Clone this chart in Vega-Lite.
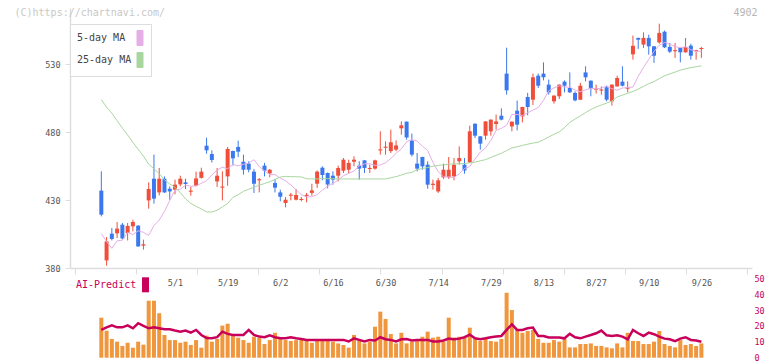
{
  "$schema": "https://vega.github.io/schema/vega-lite/v6.json",
  "width": 682,
  "height": 350,
  "autosize": {"type": "none"},
  "padding": {"left": 70, "top": 8, "right": 20, "bottom": 3},
  "background": "white",
  "config": {"view": {"stroke": null}, "font": "DejaVu Sans Mono"},
  "data": {"values": [
    {"i":0,"d":"2025-04-10","o":437,"h":451.2,"l":418,"c":419.3,"ma5":405.3,"ma25":504,"v":25.2,"ai":17.5},
    {"i":1,"d":"2025-04-11","o":385.6,"h":402.8,"l":381.7,"c":399.6,"ma5":399.5,"ma25":498.5,"v":17.0,"ai":19.1},
    {"i":2,"d":"2025-04-14","o":405.3,"h":409.5,"l":400.3,"c":401.4,"ma5":394.5,"ma25":494,"v":11.8,"ai":20.4},
    {"i":3,"d":"2025-04-15","o":405.5,"h":413.9,"l":402.1,"c":409,"ma5":400,"ma25":488.5,"v":10.1,"ai":19.1},
    {"i":4,"d":"2025-04-16","o":411.9,"h":413.2,"l":400.9,"c":401.8,"ma5":400.5,"ma25":483,"v":7.4,"ai":19.1},
    {"i":5,"d":"2025-04-17","o":405.8,"h":413.2,"l":400.3,"c":411,"ma5":406.2,"ma25":478,"v":9.4,"ai":20.4},
    {"i":6,"d":"2025-04-18","o":410.7,"h":415.6,"l":407,"c":413.9,"ma5":404.6,"ma25":472.5,"v":6.3,"ai":18.5},
    {"i":7,"d":"2025-04-21","o":411.2,"h":411.6,"l":395.6,"c":395.9,"ma5":407.4,"ma25":467.5,"v":10.1,"ai":21.7},
    {"i":8,"d":"2025-04-22","o":396.5,"h":400.9,"l":393.5,"c":397.5,"ma5":406.3,"ma25":462.5,"v":8.2,"ai":20.0},
    {"i":9,"d":"2025-04-23","o":429.8,"h":443.1,"l":423.7,"c":438.2,"ma5":404.0,"ma25":456.5,"v":35.9,"ai":18.5},
    {"i":10,"d":"2025-04-24","o":445.8,"h":463.5,"l":427.4,"c":431.1,"ma5":411.3,"ma25":453,"v":35.9,"ai":19.1},
    {"i":11,"d":"2025-04-25","o":435.7,"h":453.7,"l":433.5,"c":445.8,"ma5":415.3,"ma25":449.5,"v":28.0,"ai":18.5},
    {"i":12,"d":"2025-04-28","o":445.8,"h":447.5,"l":435.3,"c":435.7,"ma5":421.7,"ma25":445,"v":14.3,"ai":17.9},
    {"i":13,"d":"2025-04-30","o":438.4,"h":440.1,"l":430.3,"c":436.4,"ma5":429.7,"ma25":442,"v":11.1,"ai":17.9},
    {"i":14,"d":"2025-05-01","o":437.7,"h":445.1,"l":434.3,"c":441.4,"ma5":437.4,"ma25":439.5,"v":11.1,"ai":17.1},
    {"i":15,"d":"2025-05-02","o":441.6,"h":448,"l":440.1,"c":445.8,"ma5":438.1,"ma25":435.5,"v":9.4,"ai":16.4},
    {"i":16,"d":"2025-05-07","o":443.1,"h":445.8,"l":438.2,"c":441.9,"ma5":441.0,"ma25":431,"v":10.1,"ai":17.1},
    {"i":17,"d":"2025-05-08","o":436.2,"h":439.7,"l":433.3,"c":437,"ma5":440.2,"ma25":427.5,"v":8.0,"ai":15.8},
    {"i":18,"d":"2025-05-09","o":440.6,"h":451,"l":440.1,"c":446,"ma5":440.5,"ma25":425.5,"v":11.1,"ai":17.5},
    {"i":19,"d":"2025-05-12","o":446.4,"h":453.9,"l":445.9,"c":451,"ma5":442.4,"ma25":423.5,"v":6.3,"ai":14.3},
    {"i":20,"d":"2025-05-13","o":470.1,"h":476,"l":464.2,"c":466.7,"ma5":444.3,"ma25":421.3,"v":13.9,"ai":12.4},
    {"i":21,"d":"2025-05-14","o":464,"h":466.7,"l":457.7,"c":459.6,"ma5":448.5,"ma25":421.3,"v":10.1,"ai":12.2},
    {"i":22,"d":"2025-05-15","o":443.8,"h":453.7,"l":439.7,"c":448,"ma5":452.1,"ma25":422.5,"v":11.8,"ai":12.9},
    {"i":23,"d":"2025-05-16","o":439.2,"h":451.2,"l":429.8,"c":440,"ma5":454.3,"ma25":425,"v":20.2,"ai":16.4},
    {"i":24,"d":"2025-05-19","o":447.5,"h":469.2,"l":440.6,"c":467.7,"ma5":453.1,"ma25":427.5,"v":21.4,"ai":15.0},
    {"i":25,"d":"2025-05-20","o":466.2,"h":466.5,"l":455.4,"c":460.8,"ma5":456.4,"ma25":432,"v":14.9,"ai":14.3},
    {"i":26,"d":"2025-05-21","o":469.2,"h":473.8,"l":461.8,"c":465.7,"ma5":455.2,"ma25":434,"v":12.6,"ai":14.3},
    {"i":27,"d":"2025-05-22","o":458.3,"h":463.5,"l":448.8,"c":452.4,"ma5":456.4,"ma25":436.5,"v":11.1,"ai":14.3},
    {"i":28,"d":"2025-05-23","o":456.9,"h":458.6,"l":450.5,"c":452.4,"ma5":457.3,"ma25":438,"v":9.4,"ai":17.5},
    {"i":29,"d":"2025-05-26","o":451,"h":453,"l":435.3,"c":442.1,"ma5":459.8,"ma25":439.5,"v":13.2,"ai":14.3},
    {"i":30,"d":"2025-05-27","o":444.6,"h":446.3,"l":435.7,"c":445.4,"ma5":454.7,"ma25":441,"v":12.6,"ai":13.3},
    {"i":31,"d":"2025-05-28","o":455.4,"h":457.4,"l":447.5,"c":451.7,"ma5":451.6,"ma25":442.2,"v":8.6,"ai":12.9},
    {"i":32,"d":"2025-05-29","o":449.7,"h":453,"l":446.8,"c":452.4,"ma5":448.8,"ma25":443.5,"v":11.1,"ai":14.1},
    {"i":33,"d":"2025-05-30","o":442.6,"h":445.6,"l":435.7,"c":439.2,"ma5":448.8,"ma25":445.3,"v":15.7,"ai":12.9},
    {"i":34,"d":"2025-06-02","o":435.7,"h":437.7,"l":429.1,"c":432.5,"ma5":446.2,"ma25":447,"v":11.8,"ai":12.2},
    {"i":35,"d":"2025-06-03","o":427.9,"h":432.3,"l":424.7,"c":430.3,"ma5":444.2,"ma25":447.5,"v":11.1,"ai":12.2},
    {"i":36,"d":"2025-06-04","o":433.2,"h":435.3,"l":429.8,"c":434,"ma5":441.2,"ma25":447.3,"v":10.5,"ai":12.9},
    {"i":37,"d":"2025-06-05","o":430.3,"h":438.2,"l":429.8,"c":433.8,"ma5":437.7,"ma25":447.2,"v":11.1,"ai":12.2},
    {"i":38,"d":"2025-06-06","o":430.1,"h":432.3,"l":429.1,"c":430.9,"ma5":434.0,"ma25":447.1,"v":11.8,"ai":11.8},
    {"i":39,"d":"2025-06-09","o":433.1,"h":435.3,"l":428.4,"c":433.9,"ma5":432.3,"ma25":445.8,"v":10.5,"ai":11.2},
    {"i":40,"d":"2025-06-10","o":435.3,"h":442.1,"l":433.3,"c":437.2,"ma5":432.6,"ma25":445.6,"v":9.4,"ai":11.2},
    {"i":41,"d":"2025-06-11","o":442.1,"h":451.9,"l":439,"c":451,"ma5":434.0,"ma25":445.6,"v":11.1,"ai":11.2},
    {"i":42,"d":"2025-06-12","o":453.9,"h":454.9,"l":444.6,"c":448.5,"ma5":437.4,"ma25":445.8,"v":11.1,"ai":11.2},
    {"i":43,"d":"2025-06-13","o":450,"h":450.4,"l":438.7,"c":441.6,"ma5":440.3,"ma25":445.8,"v":10.5,"ai":11.2},
    {"i":44,"d":"2025-06-16","o":448,"h":451.2,"l":441.4,"c":445.1,"ma5":442.4,"ma25":445.8,"v":10.1,"ai":11.2},
    {"i":45,"d":"2025-06-17","o":448,"h":455.4,"l":443.8,"c":453.7,"ma5":444.7,"ma25":445.6,"v":9.0,"ai":11.2},
    {"i":46,"d":"2025-06-18","o":451.7,"h":461,"l":450,"c":459.8,"ma5":448.0,"ma25":445.6,"v":8.0,"ai":11.2},
    {"i":47,"d":"2025-06-19","o":452.4,"h":459.8,"l":450,"c":457.4,"ma5":449.7,"ma25":445.6,"v":6.3,"ai":10.2},
    {"i":48,"d":"2025-06-20","o":458.3,"h":462.3,"l":454.9,"c":459.8,"ma5":451.5,"ma25":445.6,"v":14.3,"ai":12.2},
    {"i":49,"d":"2025-06-23","o":455.4,"h":458.6,"l":445.1,"c":453.2,"ma5":455.2,"ma25":445.6,"v":11.1,"ai":11.2},
    {"i":50,"d":"2025-06-24","o":459.3,"h":459.5,"l":450,"c":453.7,"ma5":456.8,"ma25":445.6,"v":9.0,"ai":10.2},
    {"i":51,"d":"2025-06-25","o":452.9,"h":456.1,"l":450,"c":453.7,"ma5":456.8,"ma25":445.6,"v":10.1,"ai":11.2},
    {"i":52,"d":"2025-06-26","o":453.2,"h":459.8,"l":452.4,"c":459.3,"ma5":455.6,"ma25":445.6,"v":19.5,"ai":10.8},
    {"i":53,"d":"2025-06-27","o":466.6,"h":480.7,"l":463.5,"c":467.4,"ma5":455.9,"ma25":445.6,"v":29.0,"ai":12.9},
    {"i":54,"d":"2025-06-30","o":468.6,"h":473.3,"l":463.5,"c":469.4,"ma5":457.5,"ma25":445.6,"v":24.4,"ai":11.6},
    {"i":55,"d":"2025-07-01","o":466.1,"h":481.9,"l":464.7,"c":472.6,"ma5":460.7,"ma25":446.5,"v":14.9,"ai":11.2},
    {"i":56,"d":"2025-07-02","o":467.2,"h":474,"l":466,"c":470.3,"ma5":464.5,"ma25":447.3,"v":9.0,"ai":10.2},
    {"i":57,"d":"2025-07-03","o":482.9,"h":488,"l":478.2,"c":485.1,"ma5":467.8,"ma25":448.5,"v":15.7,"ai":11.6},
    {"i":58,"d":"2025-07-04","o":487.8,"h":488,"l":474.5,"c":476.2,"ma5":473.0,"ma25":449.8,"v":9.0,"ai":11.8},
    {"i":59,"d":"2025-07-07","o":473.8,"h":479,"l":462.2,"c":463.5,"ma5":474.7,"ma25":450.5,"v":10.1,"ai":10.8},
    {"i":60,"d":"2025-07-08","o":456.9,"h":464.7,"l":451.2,"c":453.2,"ma5":473.5,"ma25":452.4,"v":10.5,"ai":11.2},
    {"i":61,"d":"2025-07-09","o":461.8,"h":462,"l":452.4,"c":454.9,"ma5":469.7,"ma25":453.3,"v":13.2,"ai":11.2},
    {"i":62,"d":"2025-07-10","o":456.1,"h":458.6,"l":438.4,"c":441.4,"ma5":466.6,"ma25":454,"v":16.4,"ai":11.2},
    {"i":63,"d":"2025-07-11","o":441.2,"h":445.1,"l":437.7,"c":442.1,"ma5":457.8,"ma25":455,"v":12.6,"ai":10.2},
    {"i":64,"d":"2025-07-14","o":436.4,"h":446.3,"l":435.3,"c":444.6,"ma5":451.0,"ma25":455.6,"v":13.2,"ai":10.2},
    {"i":65,"d":"2025-07-15","o":446.8,"h":456.9,"l":445.6,"c":452.4,"ma5":447.2,"ma25":456,"v":10.1,"ai":10.8},
    {"i":66,"d":"2025-07-16","o":446.8,"h":461.8,"l":445.6,"c":452.4,"ma5":447.1,"ma25":456.5,"v":25.2,"ai":12.0},
    {"i":67,"d":"2025-07-17","o":447.5,"h":461,"l":444.6,"c":456.1,"ma5":446.6,"ma25":456.7,"v":12.6,"ai":11.6},
    {"i":68,"d":"2025-07-18","o":458.6,"h":469.6,"l":456.1,"c":461,"ma5":449.5,"ma25":456.8,"v":13.2,"ai":12.0},
    {"i":69,"d":"2025-07-22","o":456.1,"h":461,"l":449.5,"c":451.9,"ma5":453.3,"ma25":457,"v":12.6,"ai":12.9},
    {"i":70,"d":"2025-07-23","o":457.8,"h":484.9,"l":457.4,"c":480.7,"ma5":454.8,"ma25":457.5,"v":18.9,"ai":14.5},
    {"i":71,"d":"2025-07-24","o":486.3,"h":486.5,"l":475.8,"c":477.5,"ma5":460.4,"ma25":458,"v":11.8,"ai":12.2},
    {"i":72,"d":"2025-07-25","o":477,"h":477.2,"l":467.2,"c":471.6,"ma5":465.4,"ma25":459,"v":10.5,"ai":11.6},
    {"i":73,"d":"2025-07-28","o":477.5,"h":488.2,"l":474.5,"c":488,"ma5":468.5,"ma25":459.8,"v":11.8,"ai":12.2},
    {"i":74,"d":"2025-07-29","o":480.7,"h":489.5,"l":477.5,"c":489.3,"ma5":473.9,"ma25":461.5,"v":10.5,"ai":12.9},
    {"i":75,"d":"2025-07-30","o":486.1,"h":493,"l":481.9,"c":488,"ma5":481.4,"ma25":463,"v":10.1,"ai":13.3},
    {"i":76,"d":"2025-07-31","o":492.2,"h":497.6,"l":488.8,"c":489.3,"ma5":482.9,"ma25":464.5,"v":11.8,"ai":13.7},
    {"i":77,"d":"2025-08-01","o":523.2,"h":542.3,"l":507.7,"c":510.9,"ma5":485.2,"ma25":466.5,"v":40.9,"ai":17.5},
    {"i":78,"d":"2025-08-04","o":484.3,"h":488,"l":480.7,"c":487.8,"ma5":493.1,"ma25":468.5,"v":30.0,"ai":21.0},
    {"i":79,"d":"2025-08-05","o":495.9,"h":503.3,"l":481.4,"c":485.6,"ma5":493.1,"ma25":469.3,"v":17.4,"ai":17.5},
    {"i":80,"d":"2025-08-06","o":491.7,"h":498.8,"l":487.3,"c":498.6,"ma5":492.3,"ma25":470.3,"v":15.7,"ai":17.5},
    {"i":81,"d":"2025-08-07","o":506,"h":509,"l":492.5,"c":498.6,"ma5":494.4,"ma25":471.2,"v":16.8,"ai":18.5},
    {"i":82,"d":"2025-08-08","o":504,"h":523.2,"l":500.1,"c":520.5,"ma5":496.3,"ma25":472,"v":17.4,"ai":19.0},
    {"i":83,"d":"2025-08-12","o":521.7,"h":523.2,"l":512.6,"c":514.3,"ma5":498.2,"ma25":472.7,"v":11.8,"ai":13.7},
    {"i":84,"d":"2025-08-13","o":523.2,"h":531.5,"l":518.2,"c":520.5,"ma5":503.5,"ma25":474.5,"v":9.4,"ai":13.7},
    {"i":85,"d":"2025-08-14","o":515.1,"h":518.8,"l":507.7,"c":509.4,"ma5":510.5,"ma25":476.5,"v":9.4,"ai":12.7},
    {"i":86,"d":"2025-08-15","o":502.8,"h":507.2,"l":501.1,"c":507,"ma5":512.7,"ma25":478.5,"v":11.1,"ai":12.7},
    {"i":87,"d":"2025-08-18","o":506.5,"h":515.3,"l":504.5,"c":515.1,"ma5":514.3,"ma25":480.2,"v":10.1,"ai":12.7},
    {"i":88,"d":"2025-08-19","o":517.3,"h":518.2,"l":509.4,"c":514.3,"ma5":513.3,"ma25":483.5,"v":11.8,"ai":12.2},
    {"i":89,"d":"2025-08-20","o":512.6,"h":524.1,"l":509,"c":509.4,"ma5":513.3,"ma25":487.2,"v":6.5,"ai":15.0},
    {"i":90,"d":"2025-08-21","o":509,"h":510.1,"l":502.8,"c":503.5,"ma5":511.0,"ma25":489.8,"v":6.5,"ai":12.9},
    {"i":91,"d":"2025-08-22","o":504,"h":516.4,"l":503.8,"c":514.3,"ma5":509.9,"ma25":492,"v":8.6,"ai":12.2},
    {"i":92,"d":"2025-08-25","o":524.1,"h":528.6,"l":517.5,"c":520.5,"ma5":511.3,"ma25":494.5,"v":8.6,"ai":13.3},
    {"i":93,"d":"2025-08-26","o":518,"h":518.2,"l":506.5,"c":512.1,"ma5":512.4,"ma25":496.8,"v":9.0,"ai":14.3},
    {"i":94,"d":"2025-08-27","o":511.4,"h":515.1,"l":508.5,"c":512.2,"ma5":512.0,"ma25":498.6,"v":7.4,"ai":15.4},
    {"i":95,"d":"2025-08-28","o":510.7,"h":513.8,"l":507.7,"c":511.5,"ma5":512.5,"ma25":500.1,"v":7.4,"ai":17.1},
    {"i":96,"d":"2025-08-29","o":513.1,"h":514.3,"l":502.8,"c":504,"ma5":514.1,"ma25":501.5,"v":6.5,"ai":14.1},
    {"i":97,"d":"2025-09-01","o":502.8,"h":515.3,"l":499.6,"c":515.1,"ma5":512.1,"ma25":503,"v":5.9,"ai":13.7},
    {"i":98,"d":"2025-09-02","o":513.8,"h":521.7,"l":513.6,"c":520,"ma5":511.0,"ma25":506,"v":9.0,"ai":14.1},
    {"i":99,"d":"2025-09-03","o":517.3,"h":528.6,"l":513.8,"c":514.3,"ma5":512.6,"ma25":507.4,"v":6.5,"ai":13.3},
    {"i":100,"d":"2025-09-04","o":512.1,"h":517.5,"l":509.4,"c":512.9,"ma5":513.0,"ma25":508.7,"v":15.7,"ai":11.6},
    {"i":101,"d":"2025-09-05","o":537.4,"h":551.2,"l":533.5,"c":543.7,"ma5":513.3,"ma25":510,"v":10.5,"ai":17.5},
    {"i":102,"d":"2025-09-08","o":549.5,"h":549.7,"l":541.4,"c":548.2,"ma5":521.2,"ma25":511.8,"v":10.5,"ai":15.4},
    {"i":103,"d":"2025-09-09","o":544.6,"h":553.6,"l":542.1,"c":549.5,"ma5":527.8,"ma25":513.8,"v":8.6,"ai":13.7},
    {"i":104,"d":"2025-09-10","o":549.5,"h":551.9,"l":537.2,"c":543.3,"ma5":533.7,"ma25":515.8,"v":8.6,"ai":15.8},
    {"i":105,"d":"2025-09-11","o":543.3,"h":543.5,"l":531.1,"c":536.4,"ma5":539.5,"ma25":517.3,"v":10.1,"ai":14.8},
    {"i":106,"d":"2025-09-12","o":546.2,"h":560,"l":545.3,"c":553.2,"ma5":544.2,"ma25":519.5,"v":16.8,"ai":13.3},
    {"i":107,"d":"2025-09-16","o":554.1,"h":554.9,"l":542.1,"c":542.6,"ma5":546.1,"ma25":521.6,"v":8.6,"ai":12.0},
    {"i":108,"d":"2025-09-17","o":542.9,"h":545.8,"l":538.4,"c":539.4,"ma5":545.0,"ma25":523,"v":7.4,"ai":11.6},
    {"i":109,"d":"2025-09-18","o":539.7,"h":545.8,"l":534.8,"c":540.5,"ma5":543.0,"ma25":524.3,"v":6.5,"ai":10.4},
    {"i":110,"d":"2025-09-19","o":542.1,"h":542.3,"l":531.5,"c":538.9,"ma5":542.4,"ma25":525.8,"v":11.1,"ai":12.0},
    {"i":111,"d":"2025-09-22","o":538.9,"h":549.5,"l":538.7,"c":542.9,"ma5":542.9,"ma25":526.8,"v":8.0,"ai":12.9},
    {"i":112,"d":"2025-09-24","o":543.8,"h":545.3,"l":533.5,"c":536.4,"ma5":540.9,"ma25":527.6,"v":8.6,"ai":11.2},
    {"i":113,"d":"2025-09-25","o":539.7,"h":540.7,"l":533.5,"c":540.5,"ma5":539.6,"ma25":528.3,"v":7.4,"ai":10.8},
    {"i":114,"d":"2025-09-26","o":541.3,"h":542.9,"l":534.8,"c":542.1,"ma5":539.8,"ma25":529,"v":9.0,"ai":10.0}
  ]},
  "encoding": {
    "x": {
      "field": "i", "type": "quantitative",
      "scale": {"domain": [-5, 122.667], "nice": false, "zero": false},
      "axis": {
        "orient": "bottom", "offset": -90, "title": null, "grid": false,
        "values": [-5, 6.606, 14, 18.212, 24, 29.818, 34, 41.424, 44, 53.03, 54, 64, 64.636, 74, 76.242, 84, 87.848, 94, 99.455, 104, 111.061, 114, 122.667],
        "labelExpr": "datum.value % 10 === 4 ? ['5/1','5/19','6/2','6/16','6/30','7/14','7/29','8/13','8/27','9/10','9/26'][(datum.value - 14) / 10] : ''",
        "tickOpacity": {"condition": {"test": "datum.value % 10 === 4", "value": 0}, "value": 1},
        "tickColor": "#dddddd", "tickSize": 6, "tickWidth": 1,
        "domainColor": "#dddddd", "domainWidth": 1.5,
        "labelColor": "#555555", "labelFont": "DejaVu Sans Mono", "labelFontSize": 8.5,
        "labelPadding": 4, "labelOverlap": false, "labelFlush": false, "labelBound": false
      }
    }
  },
  "layer": [
    {
      "layer": [
        {
          "mark": {"type": "rule", "strokeWidth": 1},
          "encoding": {
            "y": {
              "field": "l", "type": "quantitative",
              "scale": {"domain": [380, 571.55], "range": [260, 0], "nice": false, "zero": false},
              "axis": {
                "orient": "left", "values": [380, 430, 480, 530], "grid": false,
                "tickColor": "#dddddd", "tickSize": 5, "domainColor": "#dddddd", "domainWidth": 1.5,
                "labelColor": "#555555", "labelFont": "DejaVu Sans Mono", "labelFontSize": 8.5, "labelPadding": 5,
                "title": "(C)https://chartnavi.com/", "titleAngle": 0, "titleAlign": "left", "titleBaseline": "middle",
                "titleX": -56, "titleY": 4, "titleColor": "#c8c8c8", "titleFont": "DejaVu Sans Mono",
                "titleFontSize": 10, "titleFontWeight": "normal"
              }
            },
            "y2": {"field": "h"},
            "color": {"condition": {"test": "datum.c >= datum.o", "value": "#f04e3a"}, "value": "#3b78ef"}
          }
        },
        {
          "mark": {"type": "bar", "size": 4, "orient": "vertical"},
          "encoding": {
            "y": {"field": "o", "type": "quantitative"},
            "y2": {"field": "c"},
            "color": {"condition": {"test": "datum.c >= datum.o", "value": "#f04e3a"}, "value": "#3b78ef"}
          }
        },
        {
          "transform": [{"fold": ["ma5", "ma25"], "as": ["series", "ma"]}],
          "mark": {"type": "line", "strokeWidth": 1},
          "encoding": {
            "y": {"field": "ma", "type": "quantitative"},
            "color": {
              "field": "series", "type": "nominal",
              "scale": {"domain": ["ma5", "ma25"], "range": ["#e6aee6", "#a9d69f"]},
              "legend": {
                "orient": "none", "legendX": 0, "legendY": 16, "title": null, "direction": "vertical",
                "padding": 6, "strokeColor": "#dddddd", "fillColor": "white",
                "symbolType": "M-0.4,-1H0.4V1H-0.4Z", "symbolSize": 225,
                "symbolStrokeWidth": 1, "symbolStrokeColor": "#555555",
                "labelAlign": "left", "labelOffset": -71, "symbolOffset": 56, "rowPadding": 2,
                "labelFont": "DejaVu Sans Mono", "labelFontSize": 10, "labelColor": "#444444",
                "labelExpr": "datum.value == 'ma5' ? ' 5-day MA' : '25-day MA'",
                "encode": {"symbols": {"update": {"fill": {"scale": "color", "field": "value"}, "fillOpacity": {"value": 1}, "stroke": {"value": "#555555"}}}}
              }
            }
          }
        }
      ]
    },
    {
      "layer": [
        {
          "mark": {"type": "bar", "size": 4, "orient": "vertical", "color": "#f0963c"},
          "encoding": {
            "y": {
              "field": "v", "type": "quantitative",
              "scale": {"domain": [0, 50], "range": [349.7, 270.3], "nice": false},
              "axis": {
                "orient": "right", "values": [0, 10, 20, 30, 40, 50], "grid": false,
                "domain": false, "ticks": false, "labelPadding": 2,
                "labelColor": "#c8005a", "labelFont": "DejaVu Sans Mono", "labelFontSize": 8.5,
                "title": "4902", "titleAngle": 0, "titleAlign": "center", "titleBaseline": "middle",
                "titleX": -7, "titleY": 4, "titleColor": "#b4b4b4", "titleFont": "DejaVu Sans Mono",
                "titleFontSize": 10, "titleFontWeight": "normal"
              }
            }
          }
        },
        {
          "mark": {"type": "line", "strokeWidth": 2.5},
          "encoding": {
            "y": {"field": "ai", "type": "quantitative"},
            "stroke": {
              "datum": "AI-Predict", "type": "nominal",
              "scale": {"range": ["#c8005a"]},
              "legend": {
                "orient": "none", "legendX": 6, "legendY": 269.3, "title": null, "padding": 0,
                "symbolType": "M-0.47,-1H0.47V1H-0.47Z", "symbolSize": 225,
                "symbolFillColor": "#c8005a", "symbolStrokeWidth": 0,
                "labelAlign": "left", "labelOffset": -77, "symbolOffset": 62,
                "labelFont": "DejaVu Sans Mono", "labelFontSize": 10, "labelColor": "#c8005a",
                "encode": {"symbols": {"update": {"fill": {"value": "#c8005a"}, "fillOpacity": {"value": 1}, "strokeWidth": {"value": 0}}}}
              }
            }
          }
        }
      ]
    }
  ],
  "resolve": {"scale": {"y": "independent"}, "axis": {"y": "independent"}}
}
